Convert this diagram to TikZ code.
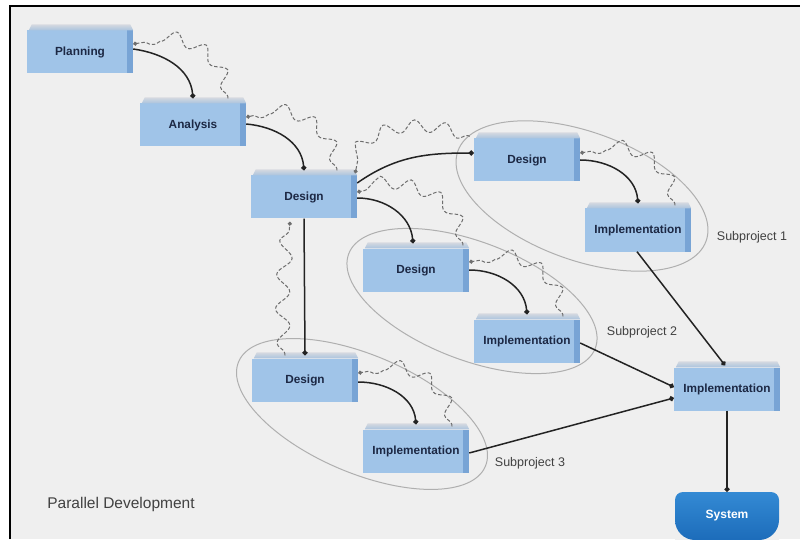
\documentclass[tikz,border=0pt]{standalone}
\usepackage{fontspec}
\setmainfont{Liberation Sans}
\usetikzlibrary{arrows.meta,decorations.pathmorphing}

\definecolor{bg}{RGB}{239,239,239}
\definecolor{boxfront}{RGB}{160,196,232}
\definecolor{boxside}{RGB}{120,164,213}
\definecolor{boxtopA}{RGB}{214,218,224}
\definecolor{boxtopB}{RGB}{170,195,222}
\definecolor{boxtext}{RGB}{28,40,68}
\definecolor{labeltext}{RGB}{65,65,65}
\definecolor{ringgray}{RGB}{175,175,175}
\definecolor{flowline}{RGB}{35,35,35}
\definecolor{backline}{RGB}{110,110,110}
\definecolor{systop}{RGB}{52,138,212}
\definecolor{sysbot}{RGB}{28,108,186}

\tikzset{
  block/.style={rectangle, minimum width=106pt, minimum height=43pt, inner sep=0pt,
    fill=boxfront, text=boxtext, font=\fontsize{11.8}{14}\selectfont\bfseries,
    path picture={\fill[boxside] ([xshift=-6pt]path picture bounding box.north east)
      rectangle (path picture bounding box.south east);}},
  topface/.style={top color=boxtopA, bottom color=boxtopB},
  flow/.style={draw=flowline, line width=1.5pt, -{Circle[length=5pt]}},
  back/.style={draw=backline, line width=1pt, dash pattern=on 3.5pt off 2pt,
    decorate, decoration={snake, amplitude=6pt, segment length=30pt,
      pre length=2pt, post length=3pt},
    -{Circle[length=4pt]}},
  ring/.style={draw=ringgray, line width=1pt},
  tag/.style={text=labeltext, font=\fontsize{12.5}{14}\selectfont},
  terminal/.style={rectangle, minimum width=104pt, minimum height=48pt, inner sep=0pt,
    fill=bg, text=white, font=\fontsize{12}{14}\selectfont\bfseries,
    path picture={\shade[top color=systop, bottom color=sysbot]
      ([xshift=8pt]path picture bounding box.north west)
      -- ([xshift=-8pt]path picture bounding box.north east)
      arc[start angle=90, end angle=0, radius=8pt]
      -- ([yshift=20pt]path picture bounding box.south east)
      arc[start angle=0, end angle=-90, radius=20pt]
      -- ([xshift=20pt]path picture bounding box.south west)
      arc[start angle=270, end angle=180, radius=20pt]
      -- ([yshift=-8pt]path picture bounding box.north west)
      arc[start angle=180, end angle=90, radius=8pt] -- cycle;}},
}

\begin{document}
\begin{tikzpicture}[x=1pt,y=1pt]
\useasboundingbox (0,0) rectangle (800,539);

% page and frame
\fill[white] (0,0) rectangle (800,539);
\fill[bg] (10,0) rectangle (800,533);
\draw[black, line width=2.5pt] (10,0) -- (10,533) -- (800,533);

% subproject rings
\draw[ring, rotate around={-20:(582,343)}] (582,343) ellipse[x radius=132, y radius=64];
\draw[ring, rotate around={-21:(472,238)}] (472,238) ellipse[x radius=132, y radius=59];
\draw[ring, rotate around={-23:(362,125)}] (362,125) ellipse[x radius=134, y radius=59];

% phases
\node[block] (plan) at (80,487) {Planning};
\node[block] (ana)  at (193,414) {Analysis};
\node[block] (des)  at (304,342) {Design};
\node[block] (des1) at (527,379) {Design};
\node[block] (imp1) at (638,309) {Implementation};
\node[block] (des2) at (416,269) {Design};
\node[block] (imp2) at (527,198) {Implementation};
\node[block] (des3) at (305,159) {Design};
\node[block] (imp3) at (416,88)  {Implementation};
\node[block] (impf) at (727,150) {Implementation};
\node[terminal] (sys) at (727,23) {\raisebox{-3pt}{System}};

% bevelled top of each block
\foreach \n in {plan,ana,des,des1,imp1,des2,imp2,des3,imp3,impf}{
  \shade[topface] ([xshift=2pt]\n.north west) -- ([xshift=5pt,yshift=6pt]\n.north west)
    -- ([xshift=-3pt,yshift=6pt]\n.north east) -- (\n.north east) -- cycle;
}

% forward flow
\draw[flow] ([yshift=3pt]plan.east) to[out=-8,in=95] ([yshift=5pt]ana.north);
\draw[flow] ([yshift=1pt]ana.east) to[out=-5,in=95] ([yshift=5pt]des.north);
\draw[flow] ([yshift=14pt]des.east) to[out=35,in=180] ([yshift=7pt]des1.west);
\draw[flow] ([yshift=-1pt]des.east) to[out=0,in=95] ([xshift=-3pt,yshift=5pt]des2.north);
\draw[flow] (des1.east) to[out=0,in=95] ([yshift=5pt]imp1.north);
\draw[flow] (des2.east) to[out=0,in=95] ([yshift=5pt]imp2.north);
\draw[flow] (des.south) -- ([yshift=3pt]des3.north);
\draw[flow] ([yshift=-2pt]des3.east) to[out=0,in=95] ([yshift=5pt]imp3.north);
\draw[flow] ([xshift=-1pt]imp1.south) -- ([xshift=-2pt,yshift=2pt]impf.north);
\draw[flow] ([yshift=-2pt]imp2.east) -- ([yshift=2pt]impf.west);
\draw[flow] ([yshift=-2pt]imp3.east) -- ([yshift=-9pt]impf.west);
\draw[flow] (impf.south) -- (sys.north);

% feedback to earlier phases
\draw[back] ([xshift=35pt,yshift=5pt]ana.north) to[out=95,in=10] ([yshift=8pt]plan.east);
\draw[back] ([xshift=33pt,yshift=5pt]des.north) to[out=95,in=10] ([yshift=8pt]ana.east);
\draw[back] ([xshift=-4pt,yshift=2pt]des1.north west) to[out=160,in=80] ([xshift=-2pt,yshift=2pt]des.north east);
\draw[back] ([xshift=47pt,yshift=3pt]des2.north) to[out=95,in=10] ([yshift=5pt]des.east);
\draw[back] ([xshift=37pt,yshift=3pt]imp1.north) to[out=95,in=10] ([yshift=7pt]des1.east);
\draw[back] ([xshift=36pt,yshift=3pt]imp2.north) to[out=95,in=10] ([yshift=8pt]des2.east);
\draw[back, decoration={amplitude=7pt, segment length=34pt}] ([xshift=-20pt,yshift=3pt]des3.north) to[out=95,in=-95] ([xshift=-14pt,yshift=-3pt]des.south);
\draw[back] ([xshift=36pt,yshift=3pt]imp3.north) to[out=95,in=10] ([yshift=7pt]des3.east);

% labels
\node[tag] (sp1) at (752,302) {Subproject 1};
\node[tag] (sp2) at (642,207) {Subproject 2};
\node[tag] (sp3) at (530,76) {Subproject 3};
\node[tag, font=\fontsize{15.5}{18}\selectfont] (title) at (121,35) {Parallel Development};
\end{tikzpicture}
\end{document}
